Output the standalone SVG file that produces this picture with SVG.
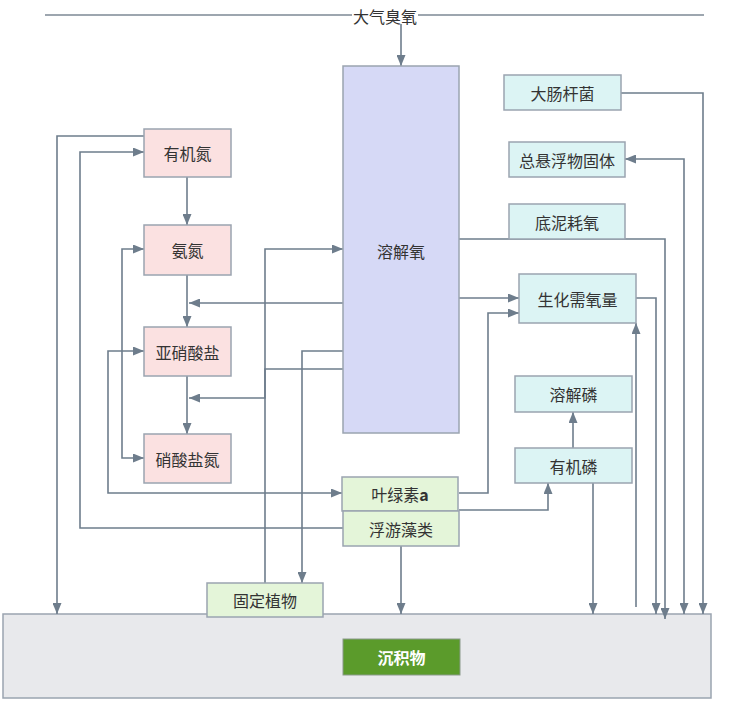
<svg xmlns="http://www.w3.org/2000/svg" width="747" height="721" viewBox="0 0 747 721">
<style>
text{font-family:"Noto Sans CJK SC","Noto Sans",sans-serif;font-size:16px;fill:#333;text-anchor:middle;dominant-baseline:central}
.n rect{stroke:#9aa4b0;stroke-width:1.5}
.pink rect{fill:#fbe1e1}
.blue rect{fill:#d6d9f6}
.cyan rect{fill:#dcf4f4}
.green rect{fill:#e4f5d9}
.c path{fill:none;stroke:#6e7d8c;stroke-width:1.6}
</style>
<defs>
<marker id="a" markerUnits="userSpaceOnUse" markerWidth="11" markerHeight="9" refX="11" refY="4.5" orient="auto-start-reverse">
<path d="M0,0 L11,4.5 L0,9 z" fill="#6e7d8c"/>
</marker>
</defs>
<rect width="747" height="721" fill="#fff"/>
<g id="sediment" class="n">
<rect x="3" y="614" width="708" height="84" fill="#e8e9ec"/>
</g>
<g id="chenjiwu">
<rect x="343" y="639" width="117" height="36" fill="#5b9b2b" stroke="#8a9a8a" stroke-width="1"/>
<text x="401.5" y="657" style="fill:#fff;font-weight:bold">沉积物</text>
</g>
<g id="ozone">
<line x1="45" y1="15" x2="704" y2="15" stroke="#7d8894" stroke-width="1.6"/>
<rect x="352" y="6" width="66" height="20" fill="#fff"/>
<text x="385" y="16">大气臭氧</text>
</g>
<g class="c" id="connectors">
<path d="M401,24 V66" marker-end="url(#a)"/>
<path d="M187,177 V225" marker-end="url(#a)"/>
<path d="M187,275 V327" marker-end="url(#a)"/>
<path d="M187,376 V434" marker-end="url(#a)"/>
<path d="M343,303 H189" marker-end="url(#a)"/>
<path d="M343,369 H265 V398 H189" marker-end="url(#a)"/>
<path d="M265,583 V249 H343" marker-end="url(#a)"/>
<path d="M343,351 H302 V583" marker-end="url(#a)"/>
<path d="M144,136 H57 V614" marker-end="url(#a)"/>
<path d="M343,528 H80 V152 H144" marker-end="url(#a)"/>
<path d="M144,249 H122 V458 H144" marker-start="url(#a)" marker-end="url(#a)"/>
<path d="M144,351 H108 V493 H342" marker-start="url(#a)" marker-end="url(#a)"/>
<path d="M459,493 H488 V313 H519" marker-end="url(#a)"/>
<path d="M459,298 H519" marker-end="url(#a)"/>
<path d="M459,510 H548 V483" marker-end="url(#a)"/>
<path d="M573,448 V412" marker-end="url(#a)"/>
<path d="M593,483 V614" marker-end="url(#a)"/>
<path d="M636,607 V323" marker-end="url(#a)"/>
<path d="M636,298 H656 V614" marker-end="url(#a)"/>
<path d="M459,239 H665 V619" marker-end="url(#a)"/>
<path d="M625,159 H684 V614" marker-start="url(#a)" marker-end="url(#a)"/>
<path d="M621,93 H703 V614" marker-end="url(#a)"/>
<path d="M401,546 V614" marker-end="url(#a)"/>
</g>
<g id="youjidan" class="n pink"><rect x="144" y="129" width="87" height="48"/><text x="187.5" y="153">有机氮</text></g>
<g id="andan" class="n pink"><rect x="144" y="225" width="87" height="50"/><text x="187.5" y="250">氨氮</text></g>
<g id="yaxiaosuanyan" class="n pink"><rect x="144" y="327" width="87" height="49"/><text x="187.5" y="351.5">亚硝酸盐</text></g>
<g id="xiaosuanyandan" class="n pink"><rect x="144" y="434" width="87" height="49"/><text x="187.5" y="458.5">硝酸盐氮</text></g>
<g id="rongjieyang" class="n blue"><rect x="343" y="66" width="116" height="367"/><text x="401" y="251">溶解氧</text></g>
<g id="dachang" class="n cyan"><rect x="504" y="75" width="117" height="35"/><text x="562.5" y="93">大肠杆菌</text></g>
<g id="zongxuanfu" class="n cyan"><rect x="509" y="142" width="116" height="35"/><text x="567" y="159.5">总悬浮物固体</text></g>
<g id="dini" class="n cyan"><rect x="509" y="204" width="116" height="35"/><text x="567" y="221.5">底泥耗氧</text></g>
<g id="shenghua" class="n cyan"><rect x="519" y="274" width="117" height="49"/><text x="577.5" y="298.5">生化需氧量</text></g>
<g id="rongjielin" class="n cyan"><rect x="515" y="376" width="117" height="36"/><text x="573.5" y="394">溶解磷</text></g>
<g id="youjilin" class="n cyan"><rect x="515" y="448" width="117" height="35"/><text x="573.5" y="465.5">有机磷</text></g>
<g id="yelvsu" class="n green"><rect x="342" y="477" width="116" height="34"/><text x="400" y="494">叶绿素<tspan font-weight="bold">a</tspan></text></g>
<g id="fuyou" class="n green"><rect x="343" y="511" width="116" height="35"/><text x="401" y="528.5">浮游藻类</text></g>
<g id="guding" class="n green"><rect x="207" y="583" width="116" height="34"/><text x="265" y="600">固定植物</text></g>
</svg>
